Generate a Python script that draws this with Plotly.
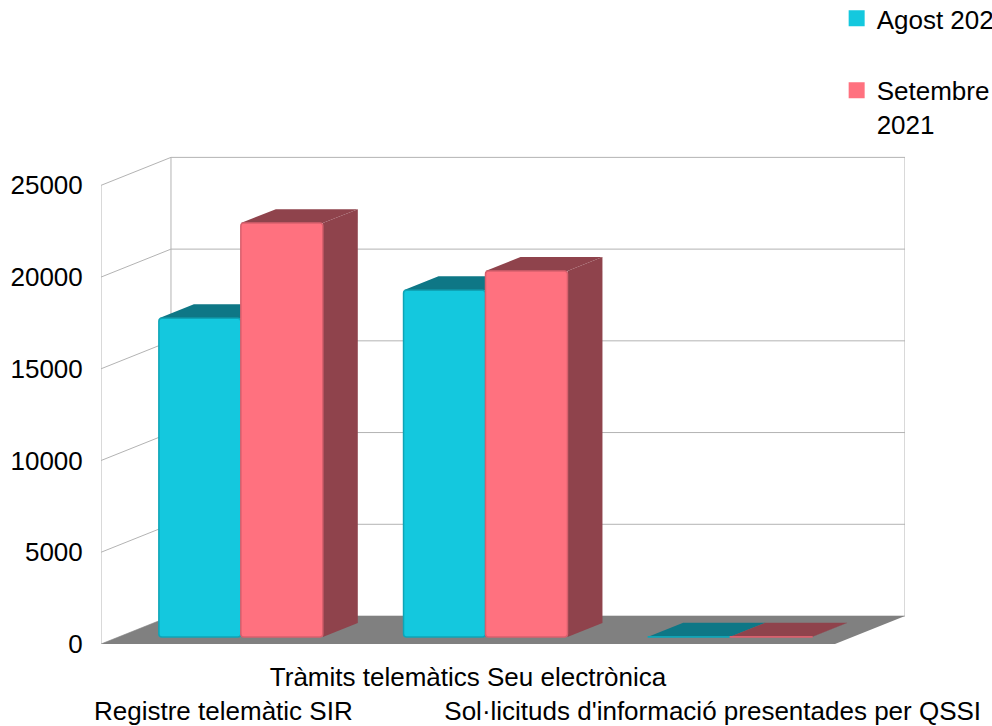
import plotly.graph_objects as go

# Categories and monthly counts
categories = [
    "Registre telemàtic SIR",
    "Tràmits telemàtics Seu electrònica",
    "Sol·licituds d'informació presentades per QSSI",
]
series_names = ["Agost 2021", "Setembre<br>2021"]
agost = [17380, 18900, 8]
setembre = [22560, 19950, 8]
y_ticks = [0, 5000, 10000, 15000, 20000, 25000]

# Colours: front face, shaded faces, outline
front_cols = ["#14c8de", "#ff717f"]
shade_cols = ["#0e7786", "#8f434c"]
edge_cols = ["#0ea4b6", "#d9606d"]
grid_col = "#b3b3b3"
floor_col = "#808080"

# Pseudo-3D geometry, in data units
DEPTH_X = 0.286      # horizontal shift from front plane to back wall
DEPTH_Y = 1525.0     # vertical shift from front plane to back wall
BAR_W = 0.335        # width of a single bar
BAR_FRONT = 0.25     # bars occupy depth fraction 0.25 .. 0.75
BAR_DEPTH = 0.5
X_LO, X_HI = -0.5, 2.5
FONT_SIZE = 26

fig = go.Figure()

shapes = []

def line(x0, y0, x1, y1):
    shapes.append(dict(type="line", xref="x", yref="y", x0=x0, y0=y0, x1=x1, y1=y1,
                       line=dict(color=grid_col, width=1), layer="below"))

def poly(pts, color):
    path = "M " + " L ".join(f"{x},{y}" for x, y in pts) + " Z"
    shapes.append(dict(type="path", xref="x", yref="y", path=path,
                       fillcolor=color, line=dict(width=0), layer="below"))

# Walls: back-wall gridlines and left-wall diagonals
for v in y_ticks:
    line(X_LO + DEPTH_X, v + DEPTH_Y, X_HI + DEPTH_X, v + DEPTH_Y)
    line(X_LO, v, X_LO + DEPTH_X, v + DEPTH_Y)
line(X_LO, 0, X_LO, y_ticks[-1])
line(X_LO + DEPTH_X, DEPTH_Y, X_LO + DEPTH_X, y_ticks[-1] + DEPTH_Y)
line(X_HI + DEPTH_X, DEPTH_Y, X_HI + DEPTH_X, y_ticks[-1] + DEPTH_Y)

# Floor
poly([(X_LO, 0), (X_HI, 0), (X_HI + DEPTH_X, DEPTH_Y), (X_LO + DEPTH_X, DEPTH_Y)], floor_col)

# Bars: shaded top and side faces as shapes, front faces as bar traces
fx = BAR_FRONT * DEPTH_X
fy = BAR_FRONT * DEPTH_Y
dx = BAR_DEPTH * DEPTH_X
dy = BAR_DEPTH * DEPTH_Y
offsets = [fx - BAR_W, fx]

for s, vals in enumerate([agost, setembre]):
    for i, v in enumerate(vals):
        x0 = i + offsets[s]
        x1 = x0 + BAR_W
        top = fy + v
        # right side face
        poly([(x1, fy), (x1, top), (x1 + dx, top + dy), (x1 + dx, fy + dy)], shade_cols[s])
        # top face
        poly([(x0, top), (x1, top), (x1 + dx, top + dy), (x0 + dx, top + dy)], shade_cols[s])

for s, vals in enumerate([agost, setembre]):
    fig.add_trace(go.Bar(
        x=list(range(len(categories))),
        y=vals,
        base=fy,
        width=BAR_W,
        offset=offsets[s],
        name=series_names[s],
        showlegend=False,
        marker=dict(color=front_cols[s], line=dict(color=edge_cols[s], width=1.5),
                    cornerradius=3),
        hoverinfo="skip",
    ))
    # legend entry with a plain square swatch
    fig.add_trace(go.Scatter(
        x=[None], y=[None], mode="markers", name=series_names[s],
        legendgroup=str(s),
        marker=dict(symbol="square", size=16, color=front_cols[s]),
    ))

tick_text = ["<br>" + categories[0], categories[1], "<br>" + categories[2]]

fig.update_layout(
    width=992, height=726,
    margin=dict(l=101, r=87, t=156, b=82, autoexpand=False),
    paper_bgcolor="white", plot_bgcolor="white",
    barmode="overlay",
    font=dict(family="Liberation Sans, Arial, sans-serif", size=FONT_SIZE, color="black"),
    shapes=shapes,
    xaxis=dict(range=[X_LO, X_HI + DEPTH_X], tickvals=[0, 1, 2], ticktext=tick_text,
               tickangle=0, showgrid=False, zeroline=False, showline=False,
               ticks="outside", ticklen=10, tickcolor="rgba(0,0,0,0)"),
    yaxis=dict(range=[0, 26600], tickvals=y_ticks, ticktext=[str(v) for v in y_ticks],
               showgrid=False, zeroline=False, showline=False,
               ticks="outside", ticklen=12, tickcolor="rgba(0,0,0,0)"),
    legend=dict(x=0.915, xanchor="left", y=1.33, yanchor="top",
                traceorder="grouped", tracegroupgap=35, valign="top",
                itemsizing="trace",
                bgcolor="rgba(0,0,0,0)", font=dict(size=FONT_SIZE)),
)

fig.write_html("out.html")
